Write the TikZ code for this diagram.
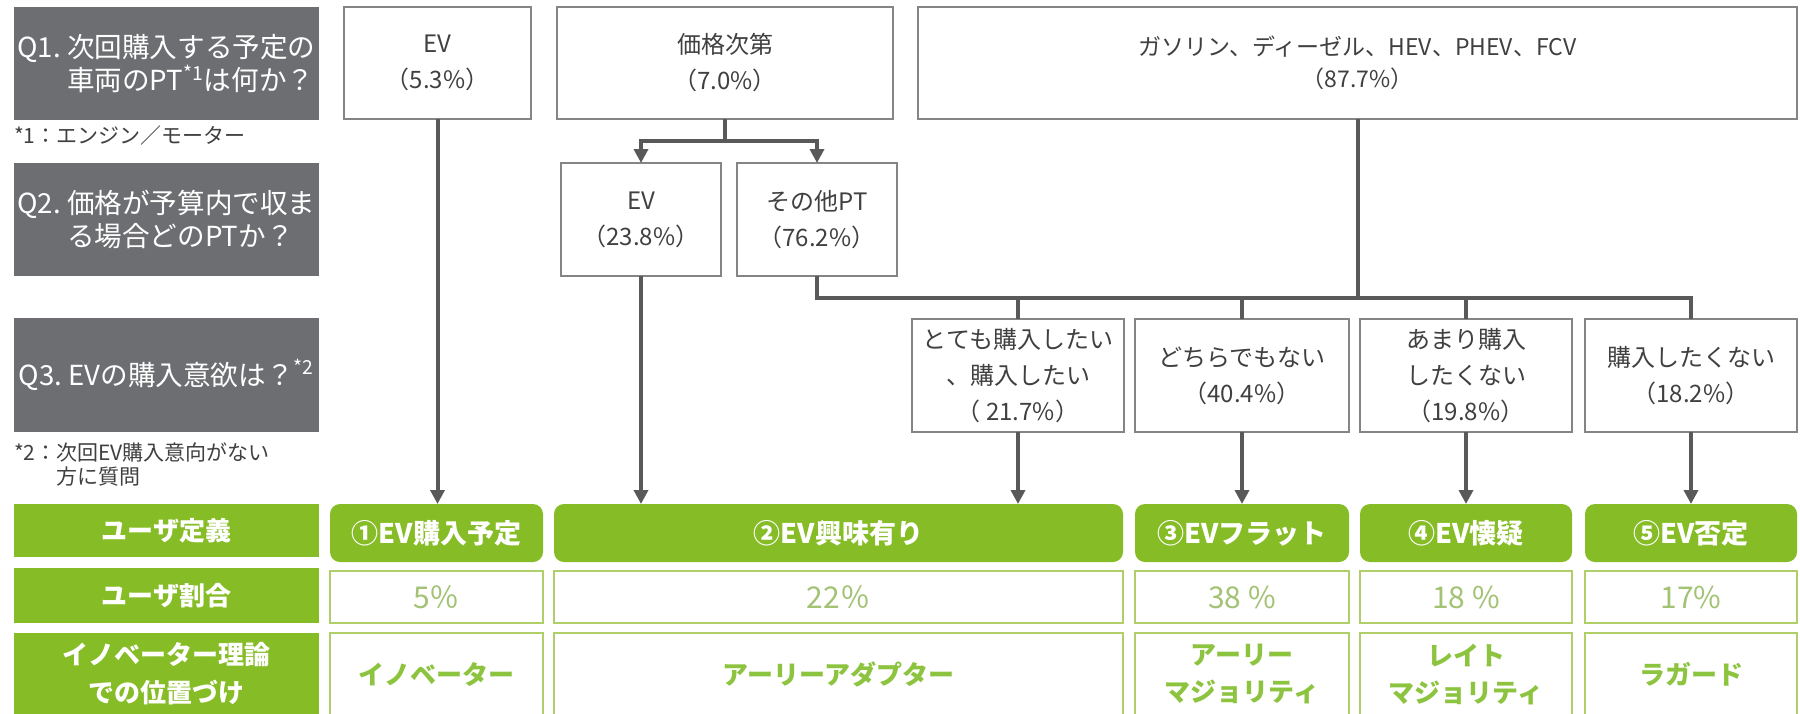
\documentclass[tikz,border=0pt]{standalone}
\usepackage{fontspec}
\setmainfont{Noto Sans CJK JP}
\usetikzlibrary{arrows.meta}
\definecolor{qgray}{HTML}{6D6E71}
\definecolor{txt}{HTML}{404040}
\definecolor{bord}{HTML}{858585}
\definecolor{conn}{HTML}{595959}
\definecolor{dgreen}{HTML}{86BC25}
\definecolor{lgbord}{HTML}{B0CE6A}
\definecolor{pctxt}{HTML}{A2C274}
\definecolor{invtxt}{HTML}{8DC43F}
\begin{document}
\begin{tikzpicture}[x=0.5pt,y=-0.5pt,
  every node/.style={outer sep=0pt,inner sep=0pt},
  gq/.style={fill=qgray,text=white,align=left,minimum width=152.5pt,minimum height=56.5pt,
    font=\fontsize{13.8pt}{16.5pt}\selectfont},
  note/.style={text=txt,align=left,font=\fontsize{10.5pt}{12pt}\selectfont},
  glab/.style={fill=dgreen,text=white,align=center,minimum width=152.5pt,
    font=\fontsize{13pt}{19pt}\selectfont\bfseries},
  abox/.style={draw=bord,line width=0.75pt,fill=white,text=txt,align=center,
    font=\fontsize{12pt}{18pt}\selectfont},
  gbox/.style={fill=dgreen,rounded corners=5pt,text=white,minimum height=29pt,
    font=\fontsize{13.5pt}{16pt}\selectfont\bfseries},
  pbox/.style={draw=lgbord,line width=0.75pt,fill=white,text=pctxt,minimum height=26pt,
    font=\fontsize{15pt}{17pt}\selectfont},
  ibox/.style={draw=lgbord,line width=0.75pt,fill=white,text=invtxt,align=center,minimum height=41pt,
    font=\fontsize{13pt}{18.5pt}\selectfont\bfseries},
  ln/.style={draw=conn,line width=2pt},
  arr/.style={draw=conn,line width=2pt,-{Triangle[length=7pt,width=7pt]}}]
\fill[white] (0,0) rectangle (1800,713);
\useasboundingbox (0,0) rectangle (1800,713);

% left column
\node[gq] (q1) at (166.5,63.5) {Q1.~次回購入する予定の\\\hphantom{Q1.~}車両のPT\textsuperscript{*1}は何か？};
\node[note,anchor=west] (n1) at (14,136) {*1：エンジン／モーター};
\node[gq] (q2) at (166.5,219.5) {Q2.~価格が予算内で収ま\\\hphantom{Q2.~}る場合どのPTか？};
\node[gq,minimum height=57pt] (q3) at (166.5,375) {Q3.~EVの購入意欲は？\textsuperscript{*2}};
\node[note,anchor=west] (n2) at (14,464) {*2：次回EV購入意向がない\\\hphantom{*2：}方に質問};
\node[glab,minimum height=26.5pt] (l1) at (166.5,530.5) {ユーザ定義};
\node[glab,minimum height=27.5pt] (l2) at (166.5,595.5) {ユーザ割合};
\node[glab,minimum height=41pt] (l3) at (166.5,674) {イノベーター理論\\での位置づけ};

% Q1 answers
\node[abox,minimum width=93.5pt,minimum height=56pt] (a1) at (437.5,63) {EV\\（5.3\%）};
\node[abox,minimum width=168pt,minimum height=56pt] (a2) at (725,63) {価格次第\\（7.0\%）};
\node[abox,minimum width=439.5pt,minimum height=56pt,font=\fontsize{11.5pt}{16pt}\selectfont] (a3) at (1357.5,63)
  {ガソリン、ディーゼル、HEV、PHEV、FCV\\（87.7\%）};

% Q2 answers
\node[abox,minimum width=80pt,minimum height=56.5pt] (b1) at (641,219.5) {EV\\（23.8\%）};
\node[abox,minimum width=80pt,minimum height=56.5pt] (b2) at (817,219.5) {その他PT\\（76.2\%）};

% Q3 answers
\node[abox,minimum width=106pt,minimum height=56.5pt] (c1) at (1018,375.5) {とても購入したい\\、購入したい\\（ 21.7\%）};
\node[abox,minimum width=107pt,minimum height=56.5pt] (c2) at (1242,375.5) {どちらでもない\\（40.4\%）};
\node[abox,minimum width=106pt,minimum height=56.5pt] (c3) at (1466,375.5) {あまり購入\\したくない\\（19.8\%）};
\node[abox,minimum width=106pt,minimum height=56.5pt] (c4) at (1691,375.5) {購入したくない\\（18.2\%）};

% user definition row
\node[gbox,minimum width=106.5pt] (d1) at (436.5,533) {①EV購入予定};
\node[gbox,minimum width=284.5pt] (d2) at (838.5,533) {②EV興味有り};
\node[gbox,minimum width=107pt] (d3) at (1242,533) {③EVフラット};
\node[gbox,minimum width=106pt] (d4) at (1466,533) {④EV懐疑};
\node[gbox,minimum width=106pt] (d5) at (1691,533) {⑤EV否定};

% share row
\node[pbox,minimum width=106.5pt] (e1) at (436.5,597) {5％};
\node[pbox,minimum width=284.5pt] (e2) at (838.5,597) {22％};
\node[pbox,minimum width=107pt] (e3) at (1242,597) {38 \%};
\node[pbox,minimum width=106pt] (e4) at (1466,597) {18 \%};
\node[pbox,minimum width=106pt] (e5) at (1691,597) {17\%};

% innovator row
\node[ibox,minimum width=106.5pt] (f1) at (436.5,674) {イノベーター};
\node[ibox,minimum width=284.5pt] (f2) at (838.5,674) {アーリーアダプター};
\node[ibox,minimum width=107pt] (f3) at (1242,674) {アーリー\\マジョリティ};
\node[ibox,minimum width=106pt] (f4) at (1466,674) {レイト\\マジョリティ};
\node[ibox,minimum width=106pt] (f5) at (1691,674) {ラガード};

% connectors
\coordinate (br) at (725,141);
\coordinate (hy) at (0,298);
\draw[arr] (a1.south) -- (a1.south |- d1.north);
\draw[arr] (a2.south) -- (a2.south |- br) -| (b1.north);
\draw[arr] (a2.south) -- (a2.south |- br) -| (b2.north);
\draw[arr] (b1.south) -- (b1.south |- d2.north);
\draw[ln] (b2.south) |- (c4.north |- hy) -- (c4.north);
\draw[ln] (a3.south) -- (a3.south |- hy);
\draw[ln] (c1.north |- hy) -- (c1.north);
\draw[ln] (c2.north |- hy) -- (c2.north);
\draw[ln] (c3.north |- hy) -- (c3.north);
\draw[arr] (c1.south) -- (c1.south |- d2.north);
\draw[arr] (c2.south) -- (c2.south |- d3.north);
\draw[arr] (c3.south) -- (c3.south |- d4.north);
\draw[arr] (c4.south) -- (c4.south |- d5.north);
\end{tikzpicture}
\end{document}
